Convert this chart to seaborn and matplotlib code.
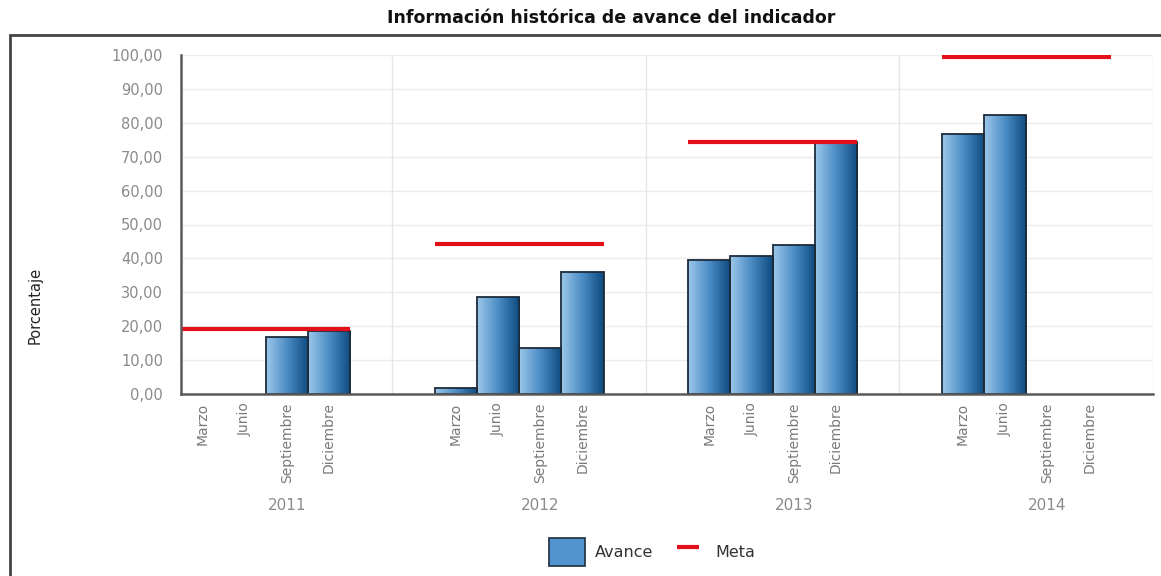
import numpy as np
import pandas as pd
import seaborn as sns
import matplotlib
matplotlib.use('Agg')
import matplotlib.pyplot as plt
import matplotlib.transforms as mtransforms
from matplotlib.colors import LinearSegmentedColormap
from matplotlib.patches import Patch, Rectangle
from matplotlib.lines import Line2D

years = ['2011', '2012', '2013', '2014']
months = ['Marzo', 'Junio', 'Septiembre', 'Diciembre']
avance_2011 = [np.nan, np.nan, 16.7, 18.6]
avance_2012 = [1.7, 28.6, 13.7, 35.9]
avance_2013 = [39.5, 40.7, 44.0, 74.2]
avance_2014 = [76.7, 82.3, np.nan, np.nan]
meta = [19.1, 44.3, 74.2, 99.3]
y_ticks = [0, 10, 20, 30, 40, 50, 60, 70, 80, 90, 100]

# each year takes 4 bar slots plus 2 empty slots as gap
gap = 2
avance = [avance_2011, avance_2012, avance_2013, avance_2014]
rows = []
for i, yr in enumerate(years):
    for j, m in enumerate(months):
        rows.append({'year': yr, 'month': m, 'pos': i * (len(months) + gap) + j, 'valor': avance[i][j]})
df = pd.DataFrame(rows)

sns.set_style('white')
plt.rcParams['font.family'] = ['DejaVu Sans']

fig = plt.figure(figsize=(11.61, 5.76), dpi=100)
ax = fig.add_axes([181 / 1161, 1 - 394 / 576, (1153 - 181) / 1161, (394 - 55) / 576])

sns.barplot(data=df.dropna(), x='pos', y='valor', native_scale=True, width=1,
            color='#4a8cc4', edgecolor='#1c2b3a', linewidth=1.3, errorbar=None, ax=ax)

# horizontal gradient inside every bar
cmap = LinearSegmentedColormap.from_list('bar', ['#9cc7ea', '#4a8cc4', '#0e4a7e'])
grad = np.linspace(0, 1, 64).reshape(1, -1)
for p in ax.patches:
    x0, w, h = p.get_x(), p.get_width(), p.get_height()
    p.set_facecolor('none')
    p.set_zorder(3)
    im = ax.imshow(grad, cmap=cmap, aspect='auto', extent=(x0, x0 + w, 0, h),
                   zorder=2.5, interpolation='bicubic')
    im.set_clip_path(p)

# meta line per year, spanning its four bars
for i in range(len(years)):
    start = i * (len(months) + gap)
    ax.hlines(meta[i], start - 0.5, start + len(months) - 0.5, color='#e3101a', lw=3, zorder=4)

n_slots = len(years) * (len(months) + gap) - gap
ax.set_xlim(-0.5, n_slots + 0.5)
ax.set_ylim(0, 100)

for v in y_ticks[1:]:
    ax.axhline(v, color='#ececec', lw=1, zorder=0)
for i in range(1, len(years) + 1):
    ax.axvline(i * (len(months) + gap) - gap / 2 - 0.5, color='#e6e6e6', lw=1, zorder=0)

ax.set_yticks(y_ticks)
ax.set_yticklabels([f'{v:.2f}'.replace('.', ',') for v in y_ticks], color='#8a8a8a', fontsize=10.5)
ax.set_xticks(df['pos'])
ax.set_xticklabels(df['month'], rotation=90, color='#7a7a7a', fontsize=10)
ax.tick_params(axis='y', length=0, pad=13)
ax.tick_params(axis='x', length=0, pad=6)
ax.set_xlabel('')
ax.set_ylabel('')

for s in ['top', 'right']:
    ax.spines[s].set_visible(False)
for s in ['left', 'bottom']:
    ax.spines[s].set_color('#5a5a5a')
    ax.spines[s].set_linewidth(1.8)
    ax.spines[s].set_zorder(5)

# year labels under the month labels
trans = mtransforms.blended_transform_factory(ax.transData, fig.transFigure)
for i, yr in enumerate(years):
    ax.text(i * (len(months) + gap) + 2, 1 - 505 / 576, yr, transform=trans,
            ha='center', va='center', color='#8a8a8a', fontsize=11)

fig.text(35 / 1161, 1 - 305 / 576, 'Porcentaje', rotation=90, ha='center', va='center',
         color='#222222', fontsize=10.5)
fig.text(611 / 1161, 1 - 18 / 576, 'Información histórica de avance del indicador',
         ha='center', va='center', fontweight='bold', fontsize=12.5, color='#111111')

handles = [Patch(facecolor='#4f93cf', edgecolor='#2a3a4a', linewidth=1.3),
           Line2D([], [], color='#e3101a', marker='_', markersize=16, markeredgewidth=3, linestyle='none')]
fig.legend(handles, ['Avance', 'Meta'], loc='center', bbox_to_anchor=(652 / 1161, 1 - 552 / 576),
           ncol=2, frameon=False, fontsize=11.5, handlelength=2.3, handleheight=2.4,
           columnspacing=1.0, handletextpad=0.6, labelcolor='#333333')

fig.patches.append(Rectangle((10 / 1161, -0.1), 1.2, 1.1 - 35 / 576, transform=fig.transFigure,
                             fill=False, edgecolor='#444444', lw=2))

fig.savefig('out.png', dpi=100)
